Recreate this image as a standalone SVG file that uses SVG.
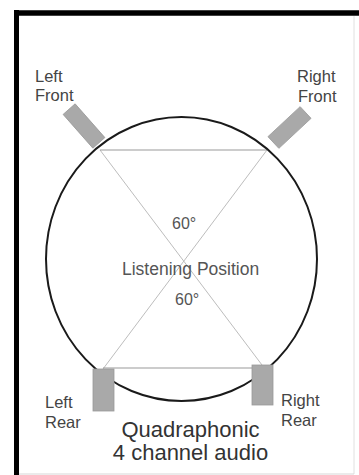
<svg xmlns="http://www.w3.org/2000/svg" width="359" height="475" viewBox="0 0 359 475">
<style>
.lbl{font-family:"Liberation Sans",Arial,sans-serif;font-size:16.5px;fill:#444}
.mid{font-family:"Liberation Sans",Arial,sans-serif;font-size:17.5px;fill:#555}
.ang{font-family:"Liberation Sans",Arial,sans-serif;font-size:16px;fill:#555}
.ttl{font-family:"Liberation Sans",Arial,sans-serif;font-size:22px;fill:#333;text-anchor:middle}
.spk{fill:#a9a9a9;stroke:#9a9a9a;stroke-width:0.8}
.diag{stroke:#bdbdbd;stroke-width:1;fill:none}
.hline{stroke:#999;stroke-width:1;fill:none}
</style>
<rect width="359" height="475" fill="#fff"/>
<g id="frame">
<line x1="354" y1="16" x2="354" y2="474" stroke="#e0e0e0" stroke-width="1"/>
<line x1="17" y1="474" x2="354" y2="474" stroke="#d8d8d8" stroke-width="1.2"/>
<line x1="14" y1="13" x2="359" y2="13" stroke="#000" stroke-width="5.5"/>
<line x1="16.5" y1="10" x2="16.5" y2="475" stroke="#000" stroke-width="5"/>
</g>
<g id="connectors">
<line class="diag" x1="100" y1="150" x2="262" y2="365"/>
<line class="diag" x1="267" y1="150" x2="103" y2="369"/>
<line class="hline" x1="100" y1="150" x2="267" y2="150"/>
<line class="hline" x1="103" y1="368" x2="262" y2="368"/>
</g>
<g id="room">
<ellipse cx="181.5" cy="259" rx="135.5" ry="142" fill="none" stroke="#1a1a1a" stroke-width="2"/>
</g>
<g id="left-front">
<rect class="spk" x="-8" y="-22.5" width="16" height="45" transform="translate(84,126) rotate(-41.4)"/>
<text class="lbl" x="35" y="82">Left</text>
<text class="lbl" x="35" y="101">Front</text>
</g>
<g id="right-front">
<rect class="spk" x="-8" y="-22" width="16" height="44" transform="translate(289.5,127.5) rotate(47)"/>
<text class="lbl" x="297" y="82">Right</text>
<text class="lbl" x="298" y="102">Front</text>
</g>
<g id="left-rear">
<rect class="spk" x="93" y="369" width="21" height="42"/>
<text class="lbl" x="45" y="408">Left</text>
<text class="lbl" x="45" y="428">Rear</text>
</g>
<g id="right-rear">
<rect class="spk" x="252" y="365" width="21" height="40"/>
<text class="lbl" x="281" y="406">Right</text>
<text class="lbl" x="281" y="426">Rear</text>
</g>
<g id="listening-position">
<text class="ang" x="172" y="229">60°</text>
<text class="mid" x="122" y="275">Listening Position</text>
<text class="ang" x="175" y="305">60°</text>
</g>
<g id="title">
<text class="ttl" x="190.5" y="437">Quadraphonic</text>
<text class="ttl" x="190.5" y="460">4 channel audio</text>
</g>
</svg>
